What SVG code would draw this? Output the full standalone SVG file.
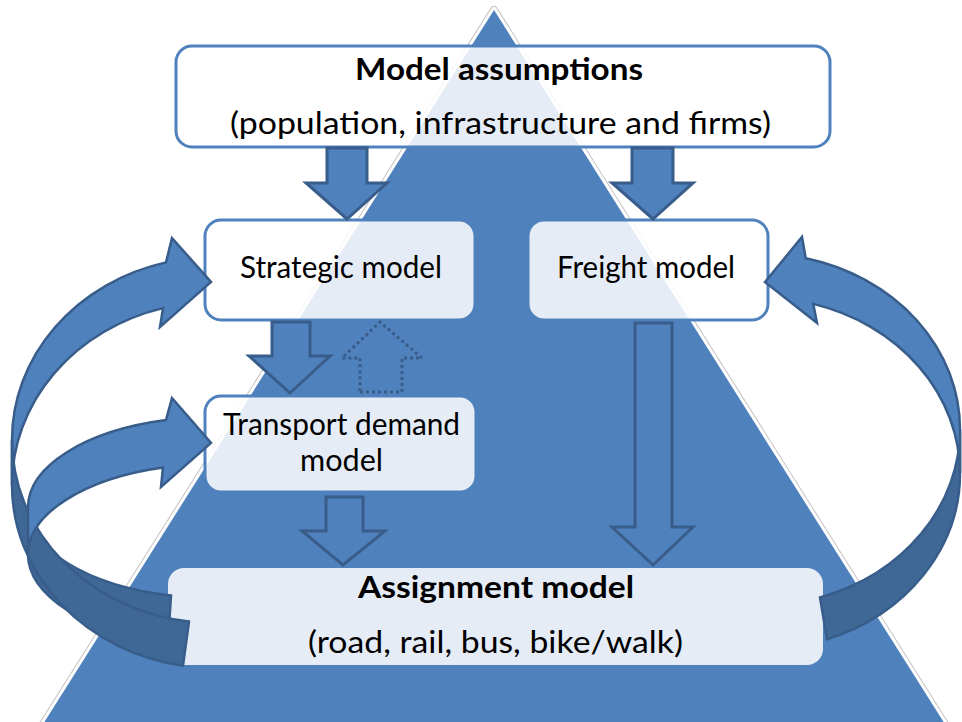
<svg xmlns="http://www.w3.org/2000/svg" width="962" height="722" viewBox="0 0 962 722">
<style>
.box{fill:#ffffff;fill-opacity:0.85;stroke:#4F81BD;stroke-width:3}
.blk{fill:#4F81BD;stroke:#385D8A;stroke-width:3;stroke-linejoin:miter}
.dot{fill:none;stroke:#385D8A;stroke-width:3;stroke-dasharray:3 3}
.lt{fill:#4F81BD;stroke:#385D8A;stroke-width:2.5;stroke-linejoin:miter}
.dk{fill:#3F6897;stroke:#385D8A;stroke-width:2.5;stroke-linejoin:miter}
.t{font-family:Lato,"Open Sans","Liberation Sans",sans-serif;font-size:30px;fill:#000000}
.b{font-weight:bold}
</style>
<rect width="962" height="722" fill="#ffffff"/>
<g id="pyramid">
<polygon points="494,10 33,740 955,740" fill="none" stroke="#C4C4C4" stroke-width="8" stroke-linejoin="round"/>
<polygon points="494,10 33,740 955,740" fill="none" stroke="#ffffff" stroke-width="6" stroke-linejoin="round"/>
<polygon points="494,10 33,740 955,740" fill="#4F81BD"/>
</g>
<g id="model-assumptions">
<rect class="box" x="176" y="46" width="654" height="101" rx="16"/>
<text class="t b" x="355" y="80" textLength="288" lengthAdjust="spacingAndGlyphs">Model assumptions</text>
<text class="t" x="230" y="134" textLength="541" lengthAdjust="spacingAndGlyphs">(population, infrastructure and firms)</text>
</g>
<g id="strategic-model">
<rect class="box" x="205" y="220" width="270" height="100" rx="16"/>
<text class="t" x="240" y="278" textLength="202" lengthAdjust="spacingAndGlyphs">Strategic model</text>
</g>
<g id="freight-model">
<rect class="box" x="528" y="220" width="240" height="100" rx="16"/>
<text class="t" x="557" y="278" textLength="178" lengthAdjust="spacingAndGlyphs">Freight model</text>
</g>
<g id="transport-demand-model">
<rect class="box" x="205" y="396" width="271" height="96" rx="16"/>
<text class="t" x="223" y="435" textLength="237" lengthAdjust="spacingAndGlyphs">Transport demand</text>
<text class="t" x="300" y="471" textLength="83" lengthAdjust="spacingAndGlyphs">model</text>
</g>
<g id="assignment-model">
<rect class="box" x="168" y="568" width="655" height="97" rx="16" style="stroke:none"/>
<text class="t b" x="358" y="598" textLength="276" lengthAdjust="spacingAndGlyphs">Assignment model</text>
<text class="t" x="308" y="653" textLength="375" lengthAdjust="spacingAndGlyphs">(road, rail, bus, bike/walk)</text>
</g>
<g id="connectors">
<polygon class="blk" points="327,148 367,148 367,183 387,183 347,219 306,183 327,183"/>
<polygon class="blk" points="632,148 673,148 673,183 693,183 653,219 612,183 632,183"/>
<polygon class="blk" points="272,322 310,322 310,356 330,356 290,393 249,356 272,356"/>
<polygon class="dot" points="360,392 402,392 402,358 422,358 380,322 342,358 360,358"/>
<polygon class="blk" points="326,497 363,497 363,531 385,531 343,565 302,531 326,531"/>
<polygon class="blk" points="635,323 672,323 672,527 693,527 653,565 612,527 635,527"/>
<path class="lt" d="M12,440 A203,183 0 0,1 166,262.4 L172,238 L211,282 L160,327 L163,308.1 A203,183 0 0,0 12,485 Z"/>
<path class="dk" d="M28,507.5 A187,90.6 0 0,0 171,595.6 L168,642.2 A187,90.6 0 0,1 28,554.5 Z"/>
<path class="dk" d="M12,440 A203,183 0 0,0 189,621.5 L183,665.7 A203,183 0 0,1 12,485 Z"/>
<path class="lt" d="M28,507.5 A187,90.6 0 0,1 166,420.1 L172,398 L211,443 L161,487 L163,467.5 A187,90.6 0 0,0 28,554.5 Z"/>
<path class="dk" d="M960,429.5 A200,176 0 0,1 820,597.4 L827,639.3 A200,176 0 0,0 960,473.5 Z"/>
<path class="lt" d="M960,429.5 A200,176 0 0,0 805.7,258.2 L802,237 L765,282 L817,323 L813.3,303.9 A200,176 0 0,1 960,473.5 Z"/>
</g>
</svg>
